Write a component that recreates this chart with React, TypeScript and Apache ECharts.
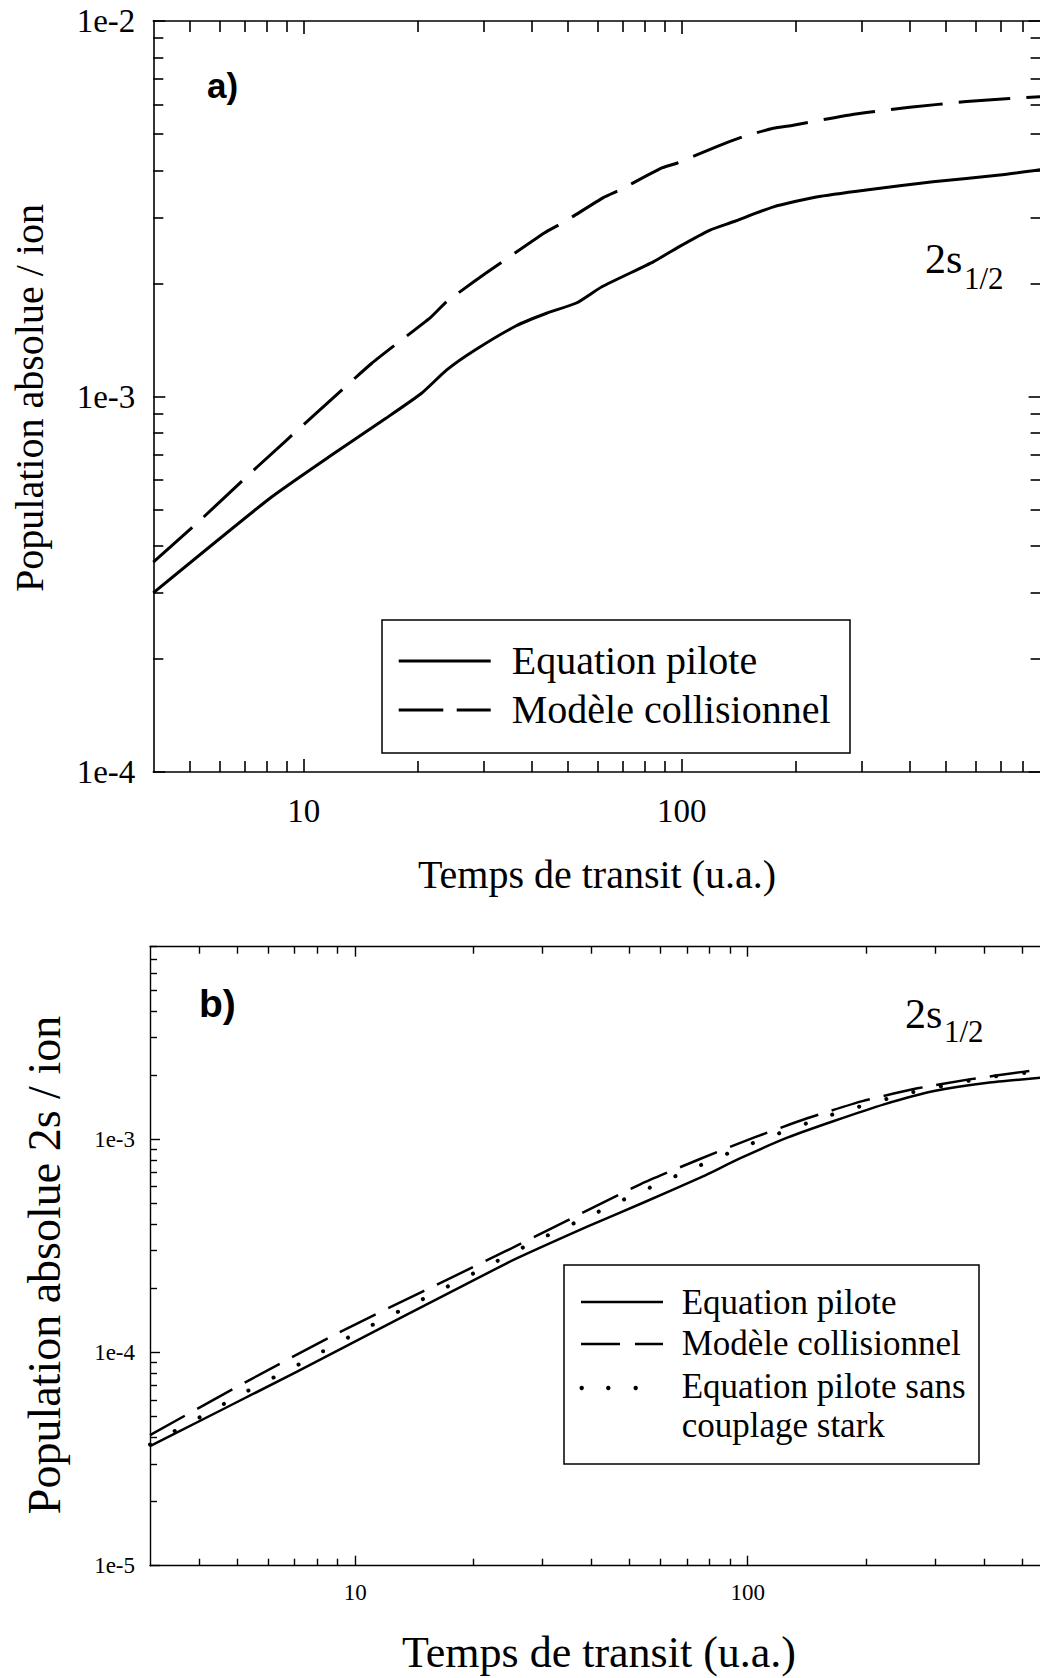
import React, { useEffect, useRef } from 'react';
import * as echarts from 'echarts';

// ---------- Panel a) data ----------
const timeSolidA = [4, 8.14, 11.67, 16.5, 20.5, 23.9, 28.4, 36.5, 43.9, 52.8, 61.5, 84.3, 98, 118.8, 137, 175, 227, 308, 462, 694, 890];
const popSolidA = [3.0e-4, 5.36e-4, 6.91e-4, 8.75e-4, 1.02e-3, 1.177e-3, 1.33e-3, 1.543e-3, 1.666e-3, 1.777e-3, 1.96e-3, 2.286e-3, 2.5e-3, 2.775e-3, 2.92e-3, 3.2e-3, 3.4e-3, 3.55e-3, 3.73e-3, 3.89e-3, 4.02e-3];
const timeDashA = [4, 5.33, 7.54, 10.67, 15.14, 21.67, 23.89, 30.3, 43.4, 48.95, 62.2, 68.7, 88, 97, 123.8, 145.5, 174.7, 197.2, 278.5, 401, 566.5, 737, 890];
const popDashA = [3.62e-4, 4.69e-4, 6.5e-4, 8.93e-4, 1.226e-3, 1.625e-3, 1.788e-3, 2.128e-3, 2.73e-3, 2.92e-3, 3.39e-3, 3.55e-3, 4.05e-3, 4.18e-3, 4.63e-3, 4.92e-3, 5.18e-3, 5.28e-3, 5.62e-3, 5.89e-3, 6.1e-3, 6.22e-3, 6.29e-3];

// ---------- Panel b) data ----------
const timeSolidB = [3, 7.09, 24.3, 39, 54.3, 75.7, 95.8, 126.1, 165.8, 222.5, 298.5, 408.7, 559];
const popSolidB = [3.64e-5, 8.11e-5, 2.62e-4, 3.89e-4, 5.05e-4, 6.61e-4, 8.15e-4, 1.0175e-3, 1.218e-3, 1.458e-3, 1.683e-3, 1.84e-3, 1.943e-3];
const timeDashB = [3, 5.26, 9.12, 24.3, 53.4, 75.3, 103.6, 141.8, 196, 270.8, 366.7, 502, 559];
const popDashB = [4.1e-5, 7.26e-5, 1.245e-4, 3.0e-4, 6.16e-4, 8.06e-4, 1.0175e-3, 1.254e-3, 1.51e-3, 1.733e-3, 1.909e-3, 2.07e-3, 2.13e-3];
const timeDotB = [3, 4.1, 5.25, 7.18, 9.8, 13.36, 15.5, 21.1, 28.8, 39.5, 45.9, 62.9, 99.7, 158.9, 252.8, 403, 559];
const popDotB = [3.7e-5, 5.07e-5, 6.52e-5, 8.79e-5, 1.2e-4, 1.61e-4, 1.85e-4, 2.47e-4, 3.33e-4, 4.36e-4, 4.99e-4, 6.5e-4, 9.37e-4, 1.28e-3, 1.634e-3, 1.943e-3, 2.09e-3];

// ---------- Ticks ----------
const xMajorA = [10, 100];
const xMinorA = [5, 6, 7, 8, 9, 20, 30, 40, 50, 60, 70, 80, 90, 200, 300, 400, 500, 600, 700, 800];
const yMajorA = [1e-4, 1e-3, 1e-2];
const yMinorA = [2e-4, 3e-4, 4e-4, 5e-4, 6e-4, 7e-4, 8e-4, 9e-4, 2e-3, 3e-3, 4e-3, 5e-3, 6e-3, 7e-3, 8e-3, 9e-3];
const xMajorB = [10, 100];
const xMinorB = [4, 5, 6, 7, 8, 9, 20, 30, 40, 50, 60, 70, 80, 90, 200, 300, 400, 500, 600, 700, 800, 900];
const yMajorB = [1e-5, 1e-4, 1e-3];
const yMinorB = [2e-5, 3e-5, 4e-5, 5e-5, 6e-5, 7e-5, 8e-5, 9e-5, 2e-4, 3e-4, 4e-4, 5e-4, 6e-4, 7e-4, 8e-4, 9e-4, 2e-3, 3e-3, 4e-3, 5e-3, 6e-3, 7e-3, 8e-3];

// ---------- Texts ----------
const legendA = ['Equation pilote', 'Modèle collisionnel'];
const legendB = ['Equation pilote', 'Modèle collisionnel', 'Equation pilote sans', 'couplage stark'];
const xTitle = 'Temps de transit (u.a.)';
const yTitleA = 'Population absolue / ion';
const yTitleB = 'Population absolue 2s / ion';

const SERIF = '"Liberation Serif", "Times New Roman", serif';
const SANS = '"Liberation Sans", Arial, sans-serif';

const zip = (xs: number[], ys: number[]) => xs.map((x, i) => [x, ys[i]]);
const fmtX = (v: number) => String(Math.round(v));
const fmtY = (v: number) => '1e' + Math.round(Math.log10(v));

function logAxis(o: any) {
  return {
    type: 'log',
    logBase: 10,
    gridIndex: o.grid,
    position: o.pos,
    min: o.min,
    max: o.max,
    axisLine: { show: !!o.line, lineStyle: { color: '#000', width: o.lw } },
    axisTick: {
      show: true,
      inside: true,
      length: o.len,
      customValues: o.ticks,
      lineStyle: { color: '#000', width: o.lw },
    },
    axisLabel: o.labels
      ? {
          show: true,
          customValues: o.labels,
          formatter: o.fmt,
          color: '#000',
          fontFamily: SERIF,
          fontSize: o.size,
          margin: o.margin,
        }
      : { show: false },
    splitLine: { show: false },
    minorTick: { show: false },
    minorSplitLine: { show: false },
  };
}

const ax = { minA: 4, maxA: 890, yminA: 1e-4, ymaxA: 1e-2, minB: 3, maxB: 1000, yminB: 1e-5, ymaxB: 8e-3 };

const xAxes = [
  logAxis({ grid: 0, pos: 'bottom', min: ax.minA, max: ax.maxA, ticks: xMajorA, len: 13, lw: 1.6, line: true, labels: xMajorA, fmt: fmtX, size: 33, margin: 22 }),
  logAxis({ grid: 0, pos: 'bottom', min: ax.minA, max: ax.maxA, ticks: xMinorA, len: 11, lw: 1.6 }),
  logAxis({ grid: 0, pos: 'top', min: ax.minA, max: ax.maxA, ticks: xMajorA, len: 13, lw: 1.6, line: true }),
  logAxis({ grid: 0, pos: 'top', min: ax.minA, max: ax.maxA, ticks: xMinorA, len: 11, lw: 1.6 }),
  logAxis({ grid: 1, pos: 'bottom', min: ax.minB, max: ax.maxB, ticks: xMajorB, len: 10, lw: 1.4, line: true, labels: xMajorB, fmt: fmtX, size: 23, margin: 15 }),
  logAxis({ grid: 1, pos: 'bottom', min: ax.minB, max: ax.maxB, ticks: xMinorB, len: 7, lw: 1.4 }),
  logAxis({ grid: 1, pos: 'top', min: ax.minB, max: ax.maxB, ticks: xMajorB, len: 10, lw: 1.4, line: true }),
  logAxis({ grid: 1, pos: 'top', min: ax.minB, max: ax.maxB, ticks: xMinorB, len: 7, lw: 1.4 }),
];

const yAxes = [
  logAxis({ grid: 0, pos: 'left', min: ax.yminA, max: ax.ymaxA, ticks: yMajorA, len: 12, lw: 1.6, line: true, labels: yMajorA, fmt: fmtY, size: 33, margin: 18 }),
  logAxis({ grid: 0, pos: 'left', min: ax.yminA, max: ax.ymaxA, ticks: yMinorA, len: 10, lw: 1.6 }),
  logAxis({ grid: 0, pos: 'right', min: ax.yminA, max: ax.ymaxA, ticks: yMajorA, len: 12, lw: 1.6, line: true }),
  logAxis({ grid: 0, pos: 'right', min: ax.yminA, max: ax.ymaxA, ticks: yMinorA, len: 10, lw: 1.6 }),
  logAxis({ grid: 1, pos: 'left', min: ax.yminB, max: ax.ymaxB, ticks: yMajorB, len: 10, lw: 1.4, line: true, labels: yMajorB, fmt: fmtY, size: 23, margin: 15 }),
  logAxis({ grid: 1, pos: 'left', min: ax.yminB, max: ax.ymaxB, ticks: yMinorB, len: 7, lw: 1.4 }),
  logAxis({ grid: 1, pos: 'right', min: ax.yminB, max: ax.ymaxB, ticks: yMajorB, len: 10, lw: 1.4, line: true }),
  logAxis({ grid: 1, pos: 'right', min: ax.yminB, max: ax.ymaxB, ticks: yMinorB, len: 7, lw: 1.4 }),
];

function lineSeries(name: string, xi: number, data: number[][], width: number, type: any, cap = 'butt') {
  return {
    name,
    type: 'line',
    xAxisIndex: xi,
    yAxisIndex: xi,
    data,
    symbol: 'none',
    showSymbol: false,
    smooth: 0.18,
    silent: true,
    lineStyle: { color: '#000', width, type, cap, join: 'round' },
  };
}

function txt(text: string, x: number, y: number, size: number, opts: any = {}) {
  const align = opts.align || 'left';
  return {
    type: 'text',
    x,
    y,
    rotation: opts.rotation || 0,
    z: 100,
    style: {
      text,
      fill: '#000',
      font: `${opts.bold ? 'bold ' : ''}${size}px ${opts.family || SERIF}`,
      align,
      verticalAlign: 'middle',
      textAlign: align,
      textVerticalAlign: 'middle',
    },
  };
}

function hline(x1: number, x2: number, y: number, w: number) {
  return { type: 'line', z: 100, shape: { x1, y1: y, x2, y2: y }, style: { stroke: '#000', lineWidth: w } };
}

const graphics: any[] = [
  // panel a
  txt('a)', 207, 85, 35, { bold: true, family: SANS }),
  txt('2s', 925, 259, 42),
  txt('1/2', 964, 278, 31),
  txt(yTitleA, 29, 398, 40, { align: 'center', rotation: Math.PI / 2 }),
  txt(xTitle, 597, 874.5, 40, { align: 'center' }),
  { type: 'rect', z: 90, shape: { x: 382, y: 620, width: 468, height: 133 }, style: { fill: '#fff', stroke: '#000', lineWidth: 1.5 } },
  hline(398.7, 490.7, 661, 3),
  hline(398.7, 443.3, 710, 3),
  hline(456.7, 490.7, 710, 3),
  txt(legendA[0], 511.7, 660.5, 40),
  txt(legendA[1], 511.7, 709.5, 40),
  // panel b
  txt('b)', 199, 1003, 39, { bold: true, family: SANS }),
  txt('2s', 905, 1014, 42),
  txt('1/2', 944, 1031.6, 31),
  txt(yTitleB, 44, 1265, 46, { align: 'center', rotation: Math.PI / 2 }),
  txt(xTitle, 599, 1652, 44, { align: 'center' }),
  { type: 'rect', z: 90, shape: { x: 564, y: 1265, width: 415, height: 199 }, style: { fill: '#fff', stroke: '#000', lineWidth: 1.5 } },
  hline(581, 663, 1302, 2.5),
  hline(581, 620, 1344, 2.5),
  hline(635, 663, 1344, 2.5),
  { type: 'circle', z: 100, shape: { cx: 581.7, cy: 1388, r: 2.2 }, style: { fill: '#000' } },
  { type: 'circle', z: 100, shape: { cx: 608.3, cy: 1388, r: 2.2 }, style: { fill: '#000' } },
  { type: 'circle', z: 100, shape: { cx: 635.7, cy: 1388, r: 2.2 }, style: { fill: '#000' } },
  txt(legendB[0], 681.7, 1302.8, 35),
  txt(legendB[1], 681.7, 1343.9, 35),
  txt(legendB[2], 681.7, 1386.5, 35),
  txt(legendB[3], 681.7, 1425.5, 35),
];

const option: any = {
  animation: false,
  backgroundColor: '#fff',
  grid: [
    { left: 153.3, top: 21, width: 887.3, height: 751, containLabel: false, outerBoundsMode: 'none' },
    { left: 150, top: 946.7, width: 990.2, height: 619, containLabel: false, outerBoundsMode: 'none' },
  ],
  xAxis: xAxes,
  yAxis: yAxes,
  series: [
    lineSeries('Equation pilote (a)', 0, zip(timeSolidA, popSolidA), 3, 'solid'),
    lineSeries('Modèle collisionnel (a)', 0, zip(timeDashA, popDashA), 3, [52, 16]),
    lineSeries('Equation pilote (b)', 4, zip(timeSolidB, popSolidB), 2.5, 'solid'),
    lineSeries('Modèle collisionnel (b)', 4, zip(timeDashB, popDashB), 2.5, [40, 14]),
    lineSeries('Equation pilote sans couplage stark (b)', 4, zip(timeDotB, popDotB), 4, [0.1, 28], 'round'),
  ],
  graphic: { elements: graphics },
};

export default function App() {
  const ref = useRef<HTMLDivElement>(null);
  useEffect(() => {
    if (!ref.current) return;
    const chart = echarts.init(ref.current, null, { renderer: 'svg', width: 1200, height: 1678 });
    chart.setOption(option);
    return () => chart.dispose();
  }, []);
  return (
    <div
      style={{
        position: 'fixed',
        left: 0,
        top: 0,
        width: 1040,
        height: 1678,
        overflow: 'hidden',
        background: '#fff',
      }}
    >
      <div ref={ref} style={{ width: 1200, height: 1678 }} />
    </div>
  );
}
